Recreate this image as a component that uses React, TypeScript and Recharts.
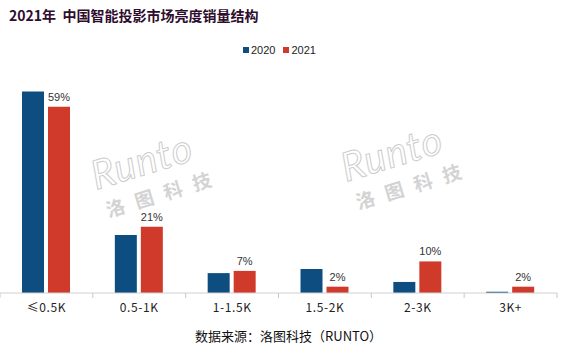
import React from "react";
import { Bar, BarChart, LabelList, XAxis, YAxis } from "recharts";

// ─── Data ────────────────────────────────────────────────────
const categories = ["≤0.5K", "0.5-1K", "1-1.5K", "1.5-2K", "2-3K", "3K+"];
const share2020 = [63.8, 18.4, 6.3, 7.6, 3.5, 0.4];
const share2021 = [59, 21, 7, 2, 10, 2];
const labels2021 = ["59%", "21%", "7%", "2%", "10%", "2%"];

const BLUE = "#0E4D80";
const RED = "#D03A2A";
const CJK = '"Noto Sans CJK SC", "Noto Sans", sans-serif';

const SERIES = [
  { key: "y2020", name: "2020", color: BLUE },
  { key: "y2021", name: "2021", color: RED },
];

const chartData = categories.map((name, i) => ({
  name,
  y2020: share2020[i],
  y2021: share2021[i],
  label: labels2021[i],
}));

function CategoryTick(props: any) {
  const { x, y, payload, width, visibleTicksCount, index } = props;
  const half = width / visibleTicksCount / 2;
  return (
    <g>
      {index === 0 && <line x1={x - half} x2={x - half} y1={y} y2={y + 5} stroke="#c8c8c8" />}
      <line x1={x + half} x2={x + half} y1={y} y2={y + 5} stroke="#c8c8c8" />
      <text x={x} y={y + 19} textAnchor="middle" fontSize={12} fill="#222" fontFamily={CJK} letterSpacing={0.6}>
        {payload.value}
      </text>
    </g>
  );
}

function Watermark({ x, y }: { x: number; y: number }) {
  return (
    <g transform={`translate(${x},${y}) rotate(-17)`} opacity={0.5}>
      <text x={0} y={0} fontSize={40} fontStyle="italic" fill="none" stroke="#9a9a9a" strokeWidth={1}
        fontFamily="Lato, sans-serif" letterSpacing={1}>
        Runto
      </text>
      <text x={4} y={30} fontSize={19} fill="#a8a8a8" fontFamily={CJK} fontWeight="bold" letterSpacing={11}>
        洛图科技
      </text>
    </g>
  );
}

export default function App() {
  return (
    <div style={{ position: "absolute", left: 0, top: 0, width: 574, height: 357, background: "#fff" }}>
      <div
        style={{
          position: "absolute", left: 9, top: 5, fontFamily: CJK, fontWeight: "bold",
          fontSize: 14, color: "#2e0d2e", whiteSpace: "pre",
        }}
      >
        {"2021年  中国智能投影市场亮度销量结构"}
      </div>
      {/* legend */}
      <div
        style={{
          position: "absolute", left: 243, top: 44, display: "flex", gap: 8,
          fontFamily: "Arial, Liberation Sans, sans-serif", fontSize: 11, color: "#222",
        }}
      >
        {SERIES.map((s) => (
          <span key={s.key} style={{ display: "flex", alignItems: "center", gap: 2 }}>
            <span style={{ width: 6, height: 6, background: s.color, display: "inline-block" }} />
            {s.name}
          </span>
        ))}
      </div>
      <BarChart
        width={574}
        height={357}
        data={chartData}
        margin={{ top: 72, right: 17, left: 0, bottom: 34 }}
        barSize={22}
        barGap={4}
      >
        <YAxis hide domain={[0, 70]} tickCount={8} allowDataOverflow />
        <XAxis
          dataKey="name"
          height={30}
          axisLine={{ stroke: "#d0d0d0" }}
          tickLine={false}
          tickSize={0}
          tickMargin={0}
          interval={0}
          tick={<CategoryTick />}
        />
        <Watermark x={96} y={190} />
        <Watermark x={346} y={182} />
        <Bar dataKey="y2020" name="2020" fill={BLUE} isAnimationActive={false} />
        <Bar dataKey="y2021" name="2021" fill={RED} isAnimationActive={false}>
          <LabelList dataKey="label" position="top" offset={6} fontSize={11} fill="#333"
            fontFamily="Arial, Liberation Sans, sans-serif" />
        </Bar>
      </BarChart>
      <div
        style={{
          position: "absolute", left: 195, top: 326, fontFamily: CJK, fontSize: 13,
          color: "#111", whiteSpace: "pre",
        }}
      >
        数据来源：洛图科技（RUNTO）
      </div>
    </div>
  );
}
